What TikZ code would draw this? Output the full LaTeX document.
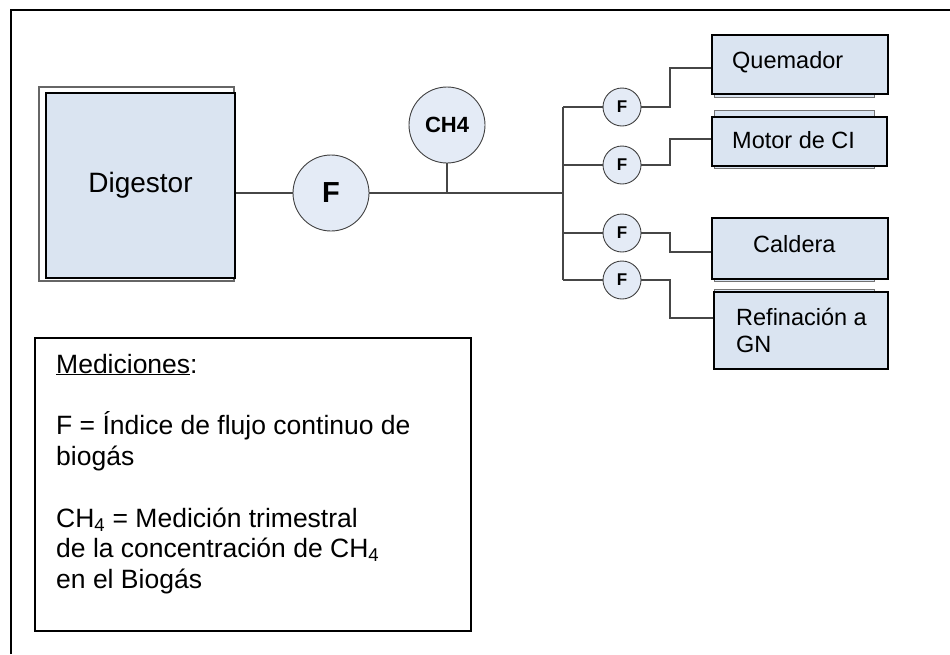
\documentclass[tikz,border=0pt]{standalone}
\usepackage{fontspec}
\setmainfont{Liberation Sans}
\definecolor{boxfill}{RGB}{218,228,241}
\definecolor{meterfill}{RGB}{228,235,246}
\definecolor{pipegray}{RGB}{70,70,70}
\begin{document}
\begin{tikzpicture}[x=1pt,y=-1pt,
  box/.style={draw=black, line width=1.6pt, fill=boxfill, inner sep=0pt},
  backbox/.style={draw=black!55, line width=1pt, fill=boxfill},
  meter/.style={circle, draw=black!75, line width=0.9pt, fill=meterfill, inner sep=0pt, font=\bfseries},
  pipe/.style={draw=pipegray, line width=1.3pt},
  unitlabel/.style={anchor=base west, inner sep=0pt, align=left, font=\fontsize{23.5}{27}\selectfont},
  legendtext/.style={anchor=base west, inner sep=0pt, align=left, font=\fontsize{26.5}{30.5}\selectfont}]
\useasboundingbox (0,0) rectangle (950,654);

% outer frame (top and left edges)
\draw[line width=2.2pt] (11,654) -- (11,10) -- (950,10);

% digestor with offset back plate
\draw[draw=black!60, line width=1.1pt, fill=white] (39,87) rectangle (234,281);
\node[box, minimum width=189, minimum height=185,
      font=\fontsize{28}{32}\selectfont] (dig) at (140.5,185.5) {Digestor};

% meters on the main line
\node[meter, minimum size=76, font=\bfseries\fontsize{29}{32}\selectfont] (fmain) at (331,193) {F};
\node[meter, minimum size=76, font=\bfseries\fontsize{22}{26}\selectfont] (ch4) at (447,125) {CH4};
\coordinate (tee) at (447,193);
\coordinate (bus) at (563,193);
\coordinate (bustop) at (563,107);
\coordinate (busbot) at (563,280);

% branch meters
\node[meter, minimum size=38, font=\bfseries\fontsize{17}{20}\selectfont] (f1) at (622,107) {F};
\node[meter, minimum size=38, font=\bfseries\fontsize{17}{20}\selectfont] (f2) at (622,165) {F};
\node[meter, minimum size=38, font=\bfseries\fontsize{17}{20}\selectfont] (f3) at (622,233) {F};
\node[meter, minimum size=38, font=\bfseries\fontsize{17}{20}\selectfont] (f4) at (622,280) {F};

% end users, each with an offset back plate
\draw[backbox] (714,40) rectangle (874,97);
\node[box, minimum width=176, minimum height=59] (q) at (800,64.5) {};
\draw[backbox] (714,110) rectangle (874,168);
\node[box, minimum width=175, minimum height=49] (m) at (799.5,141.5) {};
\draw[backbox] (714,222) rectangle (874,281);
\node[box, minimum width=176, minimum height=61] (c) at (800,248.5) {};
\draw[backbox] (714,289) rectangle (874,360);
\node[box, minimum width=174, minimum height=77] (r) at (801,330.5) {};

\node[unitlabel] (qt) at (732,68) {Quemador};
\node[unitlabel] (mt) at (732,148) {Motor de CI};
\node[unitlabel] (ct) at (753,252) {Caldera};
\node[unitlabel] (rt) at (736,352) {Refinación a\\GN};

% piping
\draw[pipe] (dig.east |- fmain) -- (fmain.west);
\draw[pipe] (fmain.east) -- (tee) -- (bus);
\draw[pipe] (ch4.south) -- (tee);
\draw[pipe] (bustop) -- (busbot);
\draw[pipe] (bustop) -- (f1.west);
\draw[pipe] (bustop |- f2) -- (f2.west);
\draw[pipe] (bustop |- f3) -- (f3.west);
\draw[pipe] (busbot) -- (f4.west);
\draw[pipe] (f1.east) -- (670,107) |- ([yshift=-3.5pt]q.west);
\draw[pipe] (f2.east) -- (670,165) |- ([yshift=2.5pt]m.west);
\draw[pipe] (f3.east) -- (670,233) |- ([yshift=-3.5pt]c.west);
\draw[pipe] (f4.east) -- (670,280) |- ([yshift=12.5pt]r.west);

% legend
\node[draw=black, line width=1.5pt, minimum width=436, minimum height=293, inner sep=0pt] (legend) at (253,484.5) {};
\node[legendtext] (lt1) at (56,373) {\underline{Mediciones}:};
\node[legendtext] (lt2) at (56,465) {F = Índice de flujo continuo de\\biogás};
\node[legendtext] (lt3) at (56,588) {CH\textsubscript{4} = Medición trimestral\\de la concentración de CH\textsubscript{4}\\en el Biogás};
\end{tikzpicture}
\end{document}
